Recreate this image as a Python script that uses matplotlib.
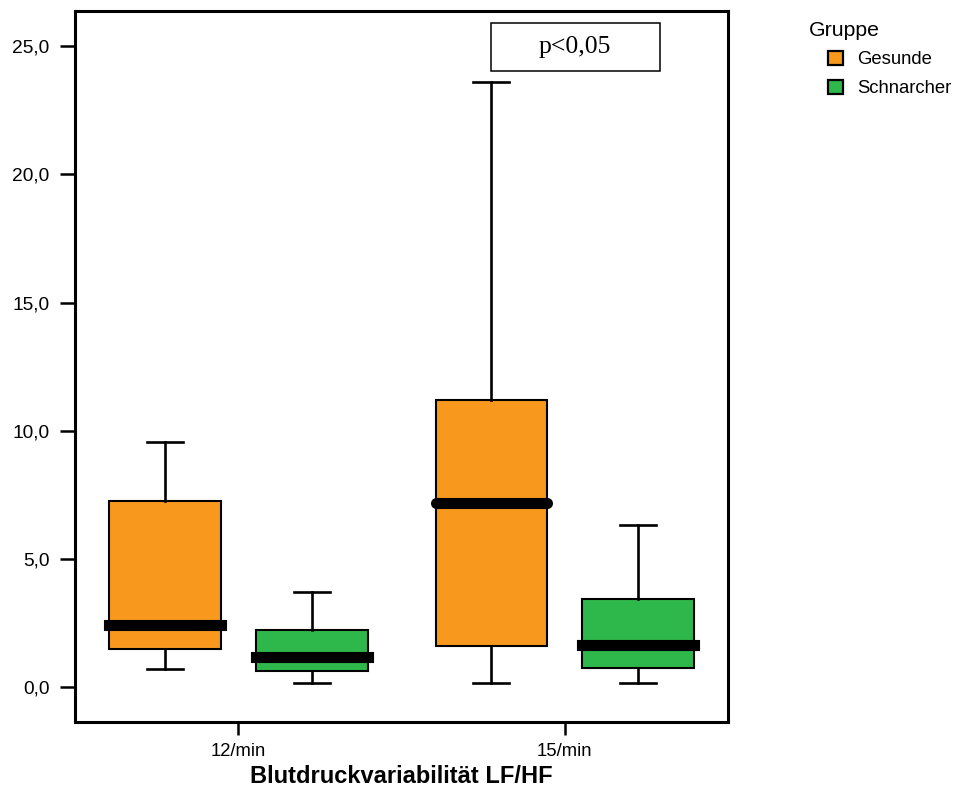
import matplotlib.pyplot as plt
from matplotlib.patches import Patch, Rectangle

# data
categories = ["12/min", "15/min"]
groups = ["Gesunde", "Schnarcher"]
colors = ["#F8991D", "#2EB84B"]

# per category, per group: whisker low, q1, median, q3, whisker high
gesunde_low = [0.73, 0.19]
gesunde_q1 = [1.50, 1.60]
gesunde_med = [2.43, 7.17]
gesunde_q3 = [7.27, 11.20]
gesunde_high = [9.57, 23.60]

schnarcher_low = [0.16, 0.19]
schnarcher_q1 = [0.65, 0.76]
schnarcher_med = [1.18, 1.64]
schnarcher_q3 = [2.25, 3.45]
schnarcher_high = [3.70, 6.32]

yticks = [0, 5, 10, 15, 20, 25]
ytick_labels = ["0,0", "5,0", "10,0", "15,0", "20,0", "25,0"]

plt.rcParams["font.family"] = ["Liberation Sans", "DejaVu Sans"]

fig = plt.figure(figsize=(9.58, 7.89), dpi=100)
ax = fig.add_axes([0.0783, 0.0849, 0.6817, 0.9011])

offset = 0.225
box_w = 0.342

series = [
    (gesunde_low, gesunde_q1, gesunde_med, gesunde_q3, gesunde_high),
    (schnarcher_low, schnarcher_q1, schnarcher_med, schnarcher_q3, schnarcher_high),
]

for gi, (lo, q1, med, q3, hi) in enumerate(series):
    stats = []
    positions = []
    for ci in range(len(categories)):
        stats.append({"whislo": lo[ci], "q1": q1[ci], "med": med[ci],
                      "q3": q3[ci], "whishi": hi[ci], "fliers": []})
        positions.append(ci + (gi - 0.5) * 2 * offset)
    ax.bxp(
        stats,
        positions=positions,
        widths=box_w,
        patch_artist=True,
        showfliers=False,
        boxprops=dict(facecolor=colors[gi], edgecolor="black", linewidth=1.5),
        whiskerprops=dict(color="black", linewidth=1.9),
        capprops=dict(color="black", linewidth=1.9),
        medianprops=dict(visible=False),
        capwidths=0.11,
        manage_ticks=False,
    )
    for ci, pos in enumerate(positions):
        round_cap = (gi == 0 and ci == 1)
        ax.plot([pos - box_w / 2, pos + box_w / 2], [med[ci], med[ci]],
                color="black", linewidth=8,
                solid_capstyle="round" if round_cap else "projecting",
                zorder=5)

ax.set_xlim(-0.5, 1.5)
ax.set_ylim(-1.35, 26.37)
ax.set_xticks(range(len(categories)))
ax.set_xticklabels(categories, fontsize=13.3)
ax.set_yticks(yticks)
ax.set_yticklabels(ytick_labels, fontsize=13.8)
ax.tick_params(axis="y", length=11, width=1.8, pad=7.5)
ax.tick_params(axis="x", length=9, width=1.8, pad=6)
for sp in ax.spines.values():
    sp.set_linewidth(2.2)

ax.set_xlabel("Blutdruckvariabilität LF/HF", fontsize=17, fontweight="bold", labelpad=4)

# significance box
ax.add_patch(Rectangle((0.637, 0.916), 0.259, 0.067, transform=ax.transAxes,
                       facecolor="white", edgecolor="black", linewidth=1.1, zorder=6))
ax.text(0.766, 0.950, "p<0,05", transform=ax.transAxes, ha="center", va="center",
        fontsize=18.5, family=["Liberation Serif", "DejaVu Serif"], zorder=7)

# legend
fig.text(809 / 958, 1 - 30.5 / 789, "Gruppe", fontsize=15.3, ha="left", va="center")
handles = [Patch(facecolor=c, edgecolor="black", linewidth=1.6, label=g)
           for c, g in zip(colors, groups)]
fig.legend(handles=handles, loc="upper left", bbox_to_anchor=(828 / 958, 1 - 51 / 789),
           frameon=False, fontsize=13.3, handlelength=0.8, handleheight=0.8,
           handletextpad=0.8, labelspacing=0.6, borderaxespad=0, borderpad=0)

fig.savefig("out.png", dpi=100)
